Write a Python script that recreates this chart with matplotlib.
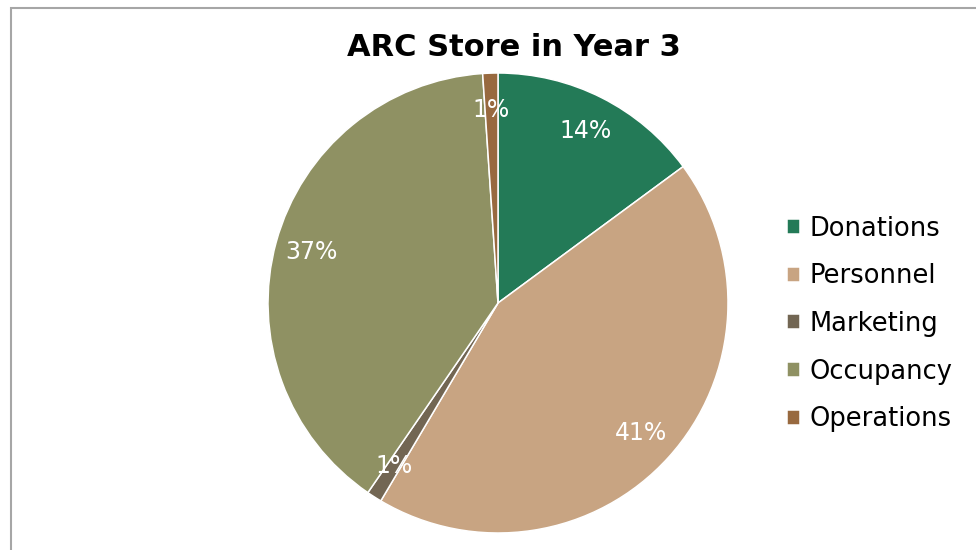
import matplotlib.pyplot as plt
from matplotlib.patches import Rectangle

# Year 3 cost breakdown (shares as stated on the chart, in percent)
categories = ['Donations', 'Personnel', 'Marketing', 'Occupancy', 'Operations']
values = [14, 41, 1, 37, 1]
colors = ['#237A57', '#C8A482', '#726653', '#8F9163', '#98693F']

total = sum(values)

plt.rcParams['font.family'] = 'DejaVu Sans'

W, H = 976, 550
fig = plt.figure(figsize=(W / 100, H / 100), dpi=100)

# pie axes: square box, centre (498, 303) px, radius 230 px
cx, cy, r = 498, 303, 230
ax = fig.add_axes([(cx - r) / W, (H - cy - r) / H, 2 * r / W, 2 * r / H])

wedges, texts, autotexts = ax.pie(
    values, colors=colors, startangle=90, counterclock=False,
    autopct=lambda p: f'{p * total / 100:.0f}%', pctdistance=0.84,
    wedgeprops=dict(edgecolor='white', linewidth=1.1),
    textprops=dict(color='white', fontsize=17))
ax.set_xlim(-1, 1)
ax.set_ylim(-1, 1)
ax.set_aspect('equal')

fig.text(514 / W, 1 - 47 / H, 'ARC Store in Year 3', ha='center', va='center',
         fontsize=22, fontweight='bold', color='black')

fig.legend(wedges, categories, loc='center left',
           bbox_to_anchor=(787 / W, 1 - 324 / H), frameon=False,
           fontsize=18.5, borderpad=0, borderaxespad=0,
           handlelength=0.52, handleheight=0.52,
           handletextpad=0.35, labelspacing=0.84)

# chart area border
fig.add_artist(Rectangle((11 / W, -0.1), 1.0, 1 - 8 / H + 0.1,
                         transform=fig.transFigure, fill=False,
                         edgecolor='#A6A6A6', linewidth=1.5))

fig.savefig('out.png', dpi=100)
